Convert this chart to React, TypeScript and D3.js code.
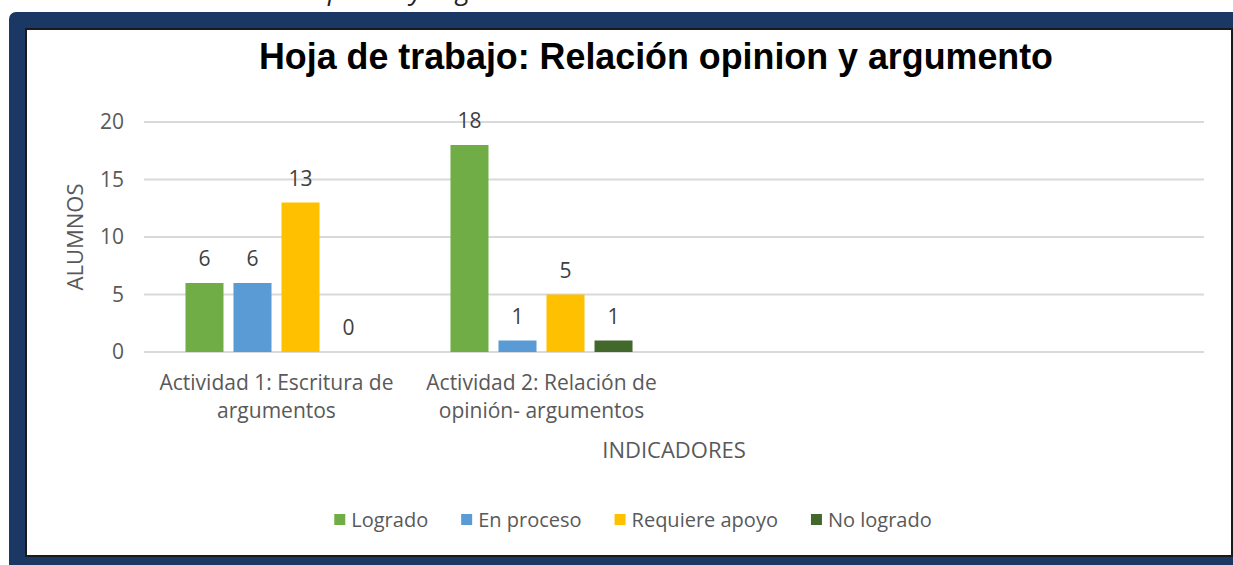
import React, { Component } from 'react';
import * as d3 from 'd3';

// chart values
const categories = ['act1', 'act2', 'empty1', 'empty2'];
const categoryLabels = [
  ['Actividad 1: Escritura de', 'argumentos'],
  ['Actividad 2: Relación de', 'opinión- argumentos'],
  [],
  [],
];
const seriesNames = ['Logrado', 'En proceso', 'Requiere apoyo', 'No logrado'];
const seriesColors = ['#70AD47', '#5B9BD5', '#FFC000', '#43682B'];
const logrado = [6, 18, null, null];
const enProceso = [6, 1, null, null];
const requiereApoyo = [13, 5, null, null];
const noLogrado = [0, 1, null, null];
const yTicks = [0, 5, 10, 15, 20];
const chartTitle = 'Hoja de trabajo: Relación opinion y argumento';
const yTitle = 'ALUMNOS';
const xTitle = 'INDICADORES';
const captionAbove = 'Relación opinión y argumento';

const FONT = '"Open Sans", sans-serif';
const TEXT_GREY = '#595959';

export default class App extends Component {
  node: SVGSVGElement | null = null;

  componentDidMount() {
    this.renderChart(this.node);
  }

  shouldComponentUpdate() {
    return false;
  }

  renderChart(svgDomNode: SVGSVGElement | null) {
    if (!svgDomNode) return;
    const width = 1233;
    const height = 565;
    const plot = { left: 144, right: 1204, top: 122, bottom: 352 };

    const svg = d3.select(svgDomNode)
      .attr('width', width)
      .attr('height', height);
    svg.selectAll('*').remove();

    // cut-off italic caption of the document above the picture (only descenders show)
    svg.append('text')
      .attr('x', 205)
      .attr('y', -1)
      .style('font-family', FONT)
      .style('font-style', 'italic')
      .style('font-size', '27px')
      .attr('fill', '#222')
      .text(captionAbove);

    // navy frame + white chart area
    svg.append('rect')
      .attr('x', 9).attr('y', 12)
      .attr('width', 1240).attr('height', 560)
      .attr('rx', 7)
      .attr('fill', '#1B3763');
    svg.append('rect')
      .attr('x', 26).attr('y', 29)
      .attr('width', 1206).attr('height', 527)
      .attr('fill', '#fff')
      .attr('stroke', '#1a1a1a')
      .attr('stroke-width', 2);

    // title
    svg.append('text')
      .attr('x', 656)
      .attr('y', 69)
      .attr('text-anchor', 'middle')
      .attr('textLength', 794)
      .attr('lengthAdjust', 'spacingAndGlyphs')
      .style('font-family', '"Liberation Sans", Arial, sans-serif')
      .style('font-weight', 'bold')
      .style('font-size', '36px')
      .attr('fill', '#000')
      .text(chartTitle);

    // scales
    const x = d3.scaleBand<string>()
      .domain(categories)
      .range([plot.left, plot.right]);
    const xs = d3.scaleBand<string>()
      .domain(seriesNames)
      .range([0, x.bandwidth()])
      .paddingInner(10 / 48)
      .paddingOuter(0.864);
    const y = d3.scaleLinear()
      .domain([0, 20])
      .range([plot.bottom, plot.top]);

    // gridlines
    svg.append('g').selectAll('line')
      .data(yTicks)
      .enter().append('line')
      .attr('x1', plot.left)
      .attr('x2', plot.right)
      .attr('y1', (d) => y(d))
      .attr('y2', (d) => y(d))
      .attr('stroke', '#D9D9D9')
      .attr('stroke-width', 2);

    // y tick labels
    svg.append('g').selectAll('text')
      .data(yTicks)
      .enter().append('text')
      .attr('x', 124)
      .attr('y', (d) => y(d))
      .attr('dy', '0.35em')
      .attr('text-anchor', 'end')
      .style('font-family', FONT)
      .style('font-size', '21px')
      .attr('fill', TEXT_GREY)
      .text((d) => d);

    // bars + value labels
    const seriesValues = [logrado, enProceso, requiereApoyo, noLogrado];
    seriesNames.forEach((name, i) => {
      const rows = categories
        .map((c, j) => ({ c, v: seriesValues[i][j] }))
        .filter((d) => d.v !== null) as { c: string; v: number }[];
      const g = svg.append('g');
      g.selectAll('rect')
        .data(rows)
        .enter().append('rect')
        .attr('x', (d) => (x(d.c) as number) + (xs(name) as number))
        .attr('y', (d) => y(d.v))
        .attr('width', xs.bandwidth())
        .attr('height', (d) => y(0) - y(d.v))
        .attr('fill', seriesColors[i]);
      g.selectAll('text')
        .data(rows)
        .enter().append('text')
        .attr('x', (d) => (x(d.c) as number) + (xs(name) as number) + xs.bandwidth() / 2)
        .attr('y', (d) => y(d.v) - 17)
        .attr('text-anchor', 'middle')
        .style('font-family', FONT)
        .style('font-size', '21px')
        .attr('fill', '#404040')
        .text((d) => d.v);
    });

    // category labels (two lines each)
    categories.forEach((c, j) => {
      const lines = categoryLabels[j];
      if (!lines.length) return;
      const t = svg.append('text')
        .attr('text-anchor', 'middle')
        .style('font-family', FONT)
        .style('font-size', '21px')
        .attr('fill', TEXT_GREY);
      lines.forEach((line, k) => {
        t.append('tspan')
          .attr('x', (x(c) as number) + x.bandwidth() / 2)
          .attr('y', 390 + k * 28)
          .text(line);
      });
    });

    // axis titles
    svg.append('text')
      .attr('x', (plot.left + plot.right) / 2)
      .attr('y', 458)
      .attr('text-anchor', 'middle')
      .style('font-family', FONT)
      .style('font-size', '22px')
      .attr('fill', TEXT_GREY)
      .text(xTitle);
    svg.append('text')
      .attr('transform', `translate(83,${(plot.top + plot.bottom) / 2}) rotate(-90)`)
      .attr('text-anchor', 'middle')
      .style('font-family', FONT)
      .style('font-size', '22px')
      .attr('fill', TEXT_GREY)
      .text(yTitle);

    // legend, centred under the chart
    const legend = svg.append('g');
    let cursor = 0;
    seriesNames.forEach((name, i) => {
      const item = legend.append('g').attr('transform', `translate(${cursor},0)`);
      item.append('rect')
        .attr('x', 0).attr('y', 514)
        .attr('width', 11).attr('height', 11)
        .attr('fill', seriesColors[i]);
      const label = item.append('text')
        .attr('x', 17)
        .attr('y', 527)
        .style('font-family', FONT)
        .style('font-size', '20px')
        .attr('fill', TEXT_GREY)
        .text(name);
      const w = (label.node() as SVGTextElement).getComputedTextLength();
      cursor += 17 + w + 33;
    });
    const legendWidth = cursor - 33;
    legend.attr('transform', `translate(${633 - legendWidth / 2},0)`);
  }

  render() {
    return (
      <div style={{ position: 'absolute', left: 0, top: 0 }}>
        <svg ref={(node) => { this.node = node; }} style={{ display: 'block' }} />
      </div>
    );
  }
}
